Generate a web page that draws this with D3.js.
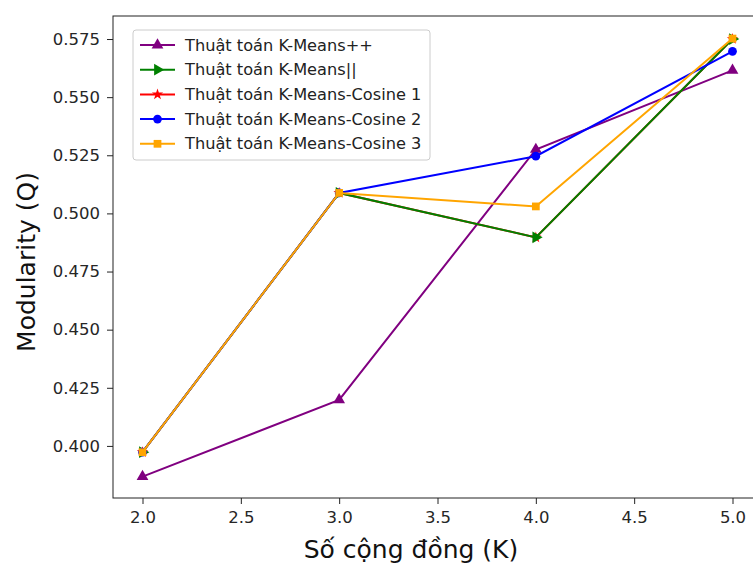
<!DOCTYPE html>
<html>
<head>
<meta charset="utf-8">
<script src="https://cdn.jsdelivr.net/npm/d3@7"></script>
<style>
  body { margin: 0; background: #fff; }
  svg { display: block; font-family: "DejaVu Sans", sans-serif; }
</style>
</head>
<body>
<div id="target"></div>
<script>
var width = 753,
    height = 565;

// data
var kValues = [2, 3, 4, 5];
var kmeansPP = [0.3868, 0.4198, 0.5275, 0.5615];
var kmeansPar = [0.3973, 0.5088, 0.4897, 0.5750];
var cosine1 = [0.3973, 0.5088, 0.4897, 0.5750];
var cosine2 = [0.3973, 0.5088, 0.5246, 0.5697];
var cosine3 = [0.3973, 0.5088, 0.5030, 0.5752];
var seriesNames = ['Thuật toán K-Means++', 'Thuật toán K-Means||', 'Thuật toán K-Means-Cosine 1',
                   'Thuật toán K-Means-Cosine 2', 'Thuật toán K-Means-Cosine 3'];
var xTicks = [2.0, 2.5, 3.0, 3.5, 4.0, 4.5, 5.0];
var yTicks = [0.400, 0.425, 0.450, 0.475, 0.500, 0.525, 0.550, 0.575];

var colors = ['purple', 'green', 'red', 'blue', 'orange'];
var symbols = [d3.symbolTriangle, d3.symbolTriangle, d3.symbolStar, d3.symbolCircle, d3.symbolSquare];
var rotations = [0, 90, 0, 0, 0];
var allSeries = [kmeansPP, kmeansPar, cosine1, cosine2, cosine3];
// red sits under green in the picture
var drawOrder = [0, 2, 1, 3, 4];

var margin = {left: 113, top: 16, right: 762, bottom: 498};

var xScale = d3.scaleLinear().domain([1.85, 5.15]).range([margin.left, margin.right]);
var yScale = d3.scaleLinear().domain([0.3776, 0.5849]).range([margin.bottom, margin.top]);

var svg = d3.select('#target').append('svg')
    .attr('width', width)
    .attr('height', height);

svg.append('rect').attr('width', width).attr('height', height).attr('fill', '#fff');

var plot = svg.append('g');

var line = d3.line()
    .x(function (d) { return xScale(d.k); })
    .y(function (d) { return yScale(d.v); });

function markerSize(i) {
    return symbols[i] === d3.symbolStar ? 40 : 60;
}

drawOrder.forEach(function (i) {
    var vals = allSeries[i];
    var pts = kValues.map(function (k, j) { return {k: k, v: vals[j]}; });
    plot.append('path')
        .datum(pts)
        .attr('d', line)
        .attr('fill', 'none')
        .attr('stroke', colors[i])
        .attr('stroke-width', 2);
    plot.selectAll('.m' + i)
        .data(pts)
        .enter()
        .append('path')
        .attr('class', 'm' + i)
        .attr('d', d3.symbol().type(symbols[i]).size(markerSize(i)))
        .attr('transform', function (d) {
            return 'translate(' + xScale(d.k) + ',' + yScale(d.v) + ') rotate(' + rotations[i] + ')';
        })
        .attr('fill', colors[i]);
});

// axes
var xAxis = d3.axisBottom(xScale).tickValues(xTicks).tickFormat(d3.format('.1f')).tickSize(6).tickSizeOuter(0).tickPadding(7);
var yAxis = d3.axisLeft(yScale).tickValues(yTicks).tickFormat(d3.format('.3f')).tickSize(6).tickSizeOuter(0).tickPadding(7);

var gx = svg.append('g').attr('transform', 'translate(0,' + margin.bottom + ')').call(xAxis);
var gy = svg.append('g').attr('transform', 'translate(' + margin.left + ',0)').call(yAxis);
[gx, gy].forEach(function (g) {
    g.select('.domain').remove();
    g.selectAll('line').attr('stroke', '#222').attr('stroke-width', 1);
    g.selectAll('text').attr('fill', '#262626').style('font-size', '16.5px').style('font-family', 'DejaVu Sans');
});

svg.append('rect')
    .attr('x', margin.left)
    .attr('y', margin.top)
    .attr('width', margin.right - margin.left)
    .attr('height', margin.bottom - margin.top)
    .attr('fill', 'none')
    .attr('stroke', '#222')
    .attr('stroke-width', 1);

svg.append('text')
    .attr('x', 411)
    .attr('y', 558)
    .attr('text-anchor', 'middle')
    .style('font-size', '25px')
    .attr('fill', '#111')
    .text('Số cộng đồng (K)');

svg.append('text')
    .attr('transform', 'translate(35,262) rotate(-90)')
    .attr('text-anchor', 'middle')
    .style('font-size', '25px')
    .attr('fill', '#111')
    .text('Modularity (Q)');

// legend
var legend = svg.append('g').attr('transform', 'translate(133,30)');
legend.append('rect')
    .attr('width', 297)
    .attr('height', 130)
    .attr('rx', 3)
    .attr('fill', 'rgba(255,255,255,0.8)')
    .attr('stroke', '#ccc');

seriesNames.forEach(function (name, i) {
    var y = 15 + i * 24.7;
    legend.append('line')
        .attr('x1', 7).attr('x2', 42)
        .attr('y1', y).attr('y2', y)
        .attr('stroke', colors[i])
        .attr('stroke-width', 2);
    legend.append('path')
        .attr('d', d3.symbol().type(symbols[i]).size(markerSize(i)))
        .attr('transform', 'translate(24.5,' + y + ') rotate(' + rotations[i] + ')')
        .attr('fill', colors[i]);
    legend.append('text')
        .attr('x', 52)
        .attr('y', y)
        .attr('dy', '0.35em')
        .style('font-size', '16.2px')
        .attr('fill', '#222')
        .text(name);
});
</script>
</body>
</html>
